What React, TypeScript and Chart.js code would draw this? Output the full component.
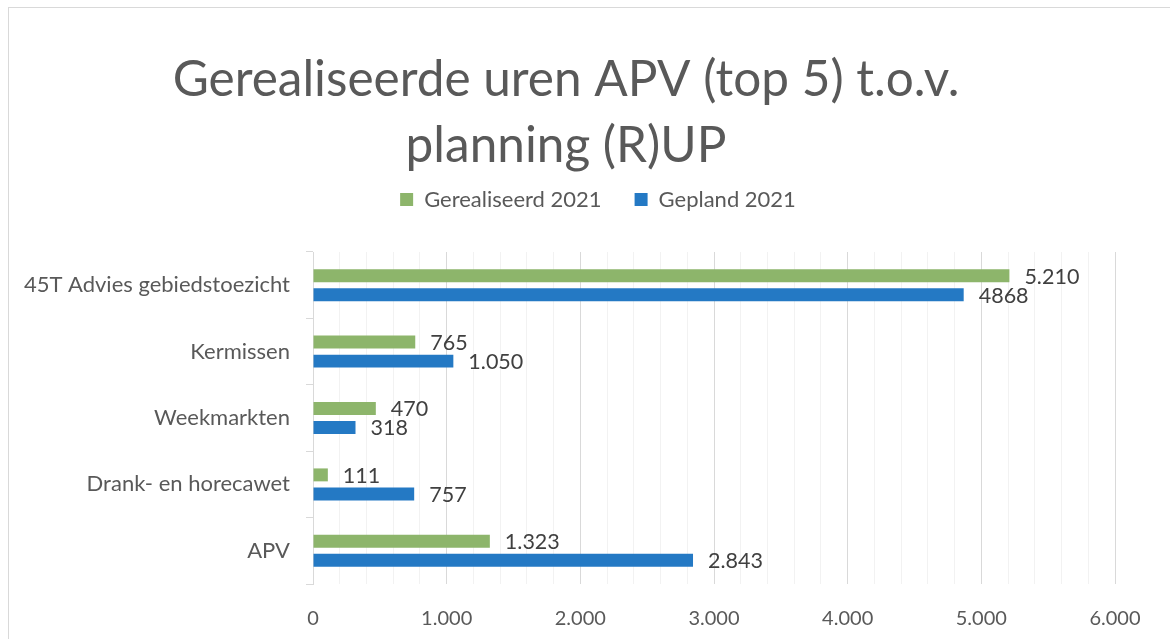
import React, { useEffect, useRef } from 'react';
import { Chart, registerables } from 'chart.js';

Chart.register(...registerables);

const categories = ['45T Advies gebiedstoezicht', 'Kermissen', 'Weekmarkten', 'Drank- en horecawet', 'APV'];
const realized = [5210, 765, 470, 111, 1323];
const planned = [4868, 1050, 318, 757, 2843];
const realizedLabels = ['5.210', '765', '470', '111', '1.323'];
const plannedLabels = ['4868', '1.050', '318', '757', '2.843'];
const seriesNames = ['Gerealiseerd 2021', 'Gepland 2021'];
const titleLines = ['Gerealiseerde uren APV (top 5) t.o.v.', 'planning (R)UP'];
const xMin = 0;
const xMax = 6000;
const majorStep = 1000;
const minorStep = 200;

const FONT = 'Lato';
const GREEN = '#8DB56B';
const BLUE = '#2479C4';
const TEXT = '#595959';

const fmt = (v: number) => String(v).replace(/\B(?=(\d{3})+(?!\d))/g, '.');

const titlePlugin = {
  id: 'customTitle',
  afterDraw(chart: any) {
    const ctx = chart.ctx;
    ctx.save();
    ctx.font = `49.5px ${FONT}`;
    ctx.fillStyle = TEXT;
    ctx.textAlign = 'center';
    ctx.textBaseline = 'alphabetic';
    titleLines.forEach((line, i) => ctx.fillText(line, 557, 88 + i * 66));
    ctx.restore();
  },
};

const legendPlugin = {
  id: 'legendBox',
  beforeInit(chart: any) {
    const legend = chart.legend;
    if (!legend) return;
    const orig = legend.fit;
    legend.fit = function () {
      orig.call(legend);
      this.height = 96.5;
    };
  },
  afterLayout(chart: any) {
    if (chart.legend) chart.legend.left = 72;
  },
};

const labelsPlugin = {
  id: 'barLabels',
  afterDatasetsDraw(chart: any) {
    const ctx = chart.ctx;
    const allLabels = [realizedLabels, plannedLabels];
    ctx.save();
    ctx.font = `21.5px ${FONT}`;
    ctx.fillStyle = '#404040';
    ctx.textAlign = 'left';
    ctx.textBaseline = 'middle';
    chart.data.datasets.forEach((_ds: any, di: number) => {
      const meta = chart.getDatasetMeta(di);
      meta.data.forEach((bar: any, i: number) => {
        ctx.fillText(allLabels[di][i], bar.x + 15, bar.y + 1);
      });
    });
    ctx.restore();
  },
};

export default function App() {
  const ref = useRef<HTMLCanvasElement | null>(null);
  useEffect(() => {
    if (!ref.current) return;
    const chart = new Chart(ref.current, {
      type: 'bar',
      data: {
        labels: categories,
        datasets: [
          { label: seriesNames[0], data: realized, backgroundColor: GREEN, borderWidth: 0, categoryPercentage: 0.573, barPercentage: 0.68 },
          { label: seriesNames[1], data: planned, backgroundColor: BLUE, borderWidth: 0, categoryPercentage: 0.573, barPercentage: 0.68 },
        ],
      },
      options: {
        indexAxis: 'y',
        responsive: false,
        animation: false,
        devicePixelRatio: 1,
        layout: { padding: { top: 147.5, left: 0, right: 66, bottom: 0 } },
        font: { family: FONT },
        plugins: {
          title: { display: false },
          tooltip: { enabled: false },
          legend: {
            display: true,
            position: 'top',
            labels: {
              boxWidth: 13,
              boxHeight: 13,
              padding: 33,
              color: TEXT,
              font: { family: FONT, size: 22 },
            },
          },
        },
        scales: {
          x: {
            type: 'linear',
            min: xMin,
            max: xMax,
            afterFit: (s: any) => { s.height = 55; },
            border: { display: false },
            grid: {
              drawTicks: false,
              color: (c: any) => (c.tick && c.tick.value % majorStep === 0 ? '#D9D9D9' : '#F2F2F2'),
              lineWidth: 1,
            },
            ticks: {
              stepSize: minorStep,
              autoSkip: false,
              maxRotation: 0,
              minRotation: 0,
              padding: 23,
              color: TEXT,
              font: { family: FONT, size: 20 },
              callback: (v: any) => (Number(v) % majorStep === 0 ? fmt(Number(v)) : ''),
            },
          },
          y: {
            type: 'category',
            afterFit: (s: any) => { s.width = 304; },
            border: { display: true, color: '#D9D9D9', width: 1 },
            grid: {
              offset: true,
              drawOnChartArea: false,
              drawTicks: true,
              tickLength: 7,
              color: '#D9D9D9',
            },
            ticks: {
              padding: 16,
              color: TEXT,
              font: { family: FONT, size: 22 },
            },
          },
        },
      },
      plugins: [titlePlugin, legendPlugin, labelsPlugin],
    } as any);
    return () => chart.destroy();
  }, []);

  return (
    <div style={{ position: 'fixed', inset: 0, overflow: 'hidden', background: '#fff' }}>
      <div
        style={{
          position: 'absolute',
          left: 8,
          top: 7,
          width: 1220,
          height: 700,
          border: '1px solid #D9D9D9',
          boxSizing: 'border-box',
        }}
      >
        <canvas
          ref={ref}
          width={1172}
          height={631}
          style={{ position: 'absolute', left: 0, top: 0, width: 1172, height: 631 }}
        />
      </div>
    </div>
  );
}
